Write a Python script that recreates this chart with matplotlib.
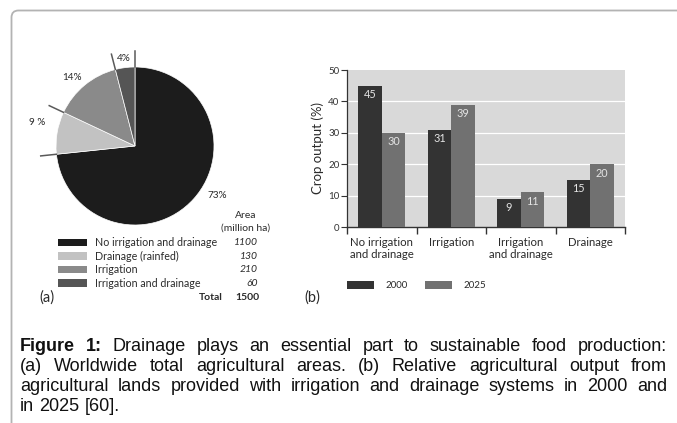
import numpy as np
import matplotlib
matplotlib.use("Agg")
import matplotlib.pyplot as plt
from matplotlib.patches import Rectangle, FancyBboxPatch
import matplotlib.transforms as mtransforms

# ---------------- data ----------------
pie_categories = ["No irrigation and drainage", "Drainage (rainfed)", "Irrigation", "Irrigation and drainage"]
pie_areas = [1100, 130, 210, 60]
pie_labels = ["73%", "9 %", "14%", "4%"]
pie_total = 1500

bar_categories = ["No irrigation\nand drainage", "Irrigation", "Irrigation\nand drainage", "Drainage"]
bar_series = ["2000", "2025"]
values_2000 = [45, 31, 9, 15]
values_2025 = [30, 39, 11, 20]
y_ticks = [0, 10, 20, 30, 40, 50]

caption_lines = [
    "Figure 1: Drainage plays an essential part to sustainable food production:",
    "(a) Worldwide total agricultural areas. (b) Relative agricultural output from",
    "agricultural lands provided with irrigation and drainage systems in 2000 and",
    "in 2025 [60].",
]

# ---------------- style ----------------
W, H = 677, 423
FONT = "Lato"
pie_colors = ["#1c1c1c", "#c2c2c2", "#8a8a8a", "#555555"]
bar_colors = ["#333333", "#717171"]
txt_color = "#2a2a2a"

fig = plt.figure(figsize=(W / 100, H / 100), dpi=100)
fig.patch.set_facecolor("white")

# overlay axes in pixel coordinates (y down)
ov = fig.add_axes([0, 0, 1, 1], zorder=0)
ov.set_xlim(0, W)
ov.set_ylim(H, 0)
ov.axis("off")

# rounded frame
frame = FancyBboxPatch((11.5, -30), 720, H - 10.5 + 30,
                       boxstyle="round,pad=0,rounding_size=7",
                       transform=mtransforms.IdentityTransform(),
                       facecolor="none", edgecolor="#b3b3b3", linewidth=1.3)
fig.patches.append(frame)

# ---------------- pie ----------------
cx, cy, R = 135, 146, 79
lim = 1.4
side = 2 * lim * R
axp = fig.add_axes([(cx - lim * R) / W, (H - cy - lim * R) / H, side / W, side / H], zorder=2)
wedges, _ = axp.pie(pie_areas, colors=pie_colors, startangle=90, counterclock=False,
                    radius=1, wedgeprops=dict(edgecolor="white", linewidth=0.5))
axp.set_xlim(-lim, lim)
axp.set_ylim(-lim, lim)
axp.set_aspect("equal")
axp.axis("off")

label_r = [1.22, 1.27, 1.17, 1.12]
label_dang = [11, -4, 3, 0]
bounds = set()
for w, lab, r, da in zip(wedges, pie_labels, label_r, label_dang):
    mid = np.deg2rad((w.theta1 + w.theta2) / 2 + da)
    axp.text(r * np.cos(mid), r * np.sin(mid), lab, ha="center", va="center",
             fontsize=7.2, color=txt_color, family=FONT)
    bounds.add(round(w.theta1, 3) % 360)
    bounds.add(round(w.theta2, 3) % 360)
for b in bounds:
    t = np.deg2rad(b)
    axp.plot([1.0 * np.cos(t), 1.2 * np.cos(t)], [1.0 * np.sin(t), 1.2 * np.sin(t)],
             color="#5a5a5a", lw=1.1, clip_on=False)

# pie legend table
row0, drow = 242.5, 13.6
ov.text(246, 216, "Area", ha="center", va="center", fontsize=7.5, color=txt_color, family=FONT)
ov.text(246, 228.5, "(million ha)", ha="center", va="center", fontsize=7.5, color=txt_color, family=FONT)
for i, (cat, col, a) in enumerate(zip(pie_categories, pie_colors, pie_areas)):
    y = row0 + i * drow
    ov.add_patch(Rectangle((58, y - 3.8), 29, 7.6, facecolor=col, edgecolor="none"))
    ov.text(95, y, cat, ha="left", va="center", fontsize=7.7, color=txt_color, family=FONT)
    ov.text(258, y, str(a), ha="right", va="center", fontsize=7.5, style="italic",
            color=txt_color, family=FONT)
ov.text(223, 297, "Total", ha="right", va="center", fontsize=7.5, weight="bold",
        color=txt_color, family=FONT)
ov.text(259, 297, str(pie_total), ha="right", va="center", fontsize=7.5, weight="bold",
        color=txt_color, family=FONT)
ov.text(39, 298, "(a)", ha="left", va="center", fontsize=10.5, color=txt_color, family=FONT)
ov.text(304, 298, "(b)", ha="left", va="center", fontsize=10.5, color=txt_color, family=FONT)

# ---------------- bars ----------------
L, Rr, B, T = 347, 625, 227, 70
axb = fig.add_axes([L / W, (H - B) / H, (Rr - L) / W, (B - T) / H], zorder=2)
axb.set_facecolor("#d9d9d9")
x = np.arange(len(bar_categories))
bw = 0.34
for k, (vals, col) in enumerate(zip([values_2000, values_2025], bar_colors)):
    pos = x + (k - 0.5) * bw
    bars = axb.bar(pos, vals, width=bw, color=col, zorder=3)
    for rect, v in zip(bars, vals):
        axb.annotate(str(v), (rect.get_x() + rect.get_width() / 2, v), xytext=(0, -6.5),
                     textcoords="offset points", ha="center", va="center",
                     fontsize=7.8, color="#e4e4e4", family=FONT, zorder=4)
axb.set_xlim(-0.5, len(bar_categories) - 0.5)
axb.set_ylim(0, 50)
axb.set_yticks(y_ticks)
axb.set_yticklabels([str(t) for t in y_ticks], fontsize=7, color=txt_color, family=FONT)
for t in y_ticks[1:-1]:
    axb.axhline(t, color="white", lw=0.9, zorder=1)
axb.set_xticks(np.arange(len(bar_categories) + 1) - 0.5)
axb.set_xticklabels([])
axb.set_xticks(x, minor=True)
axb.set_xticklabels(bar_categories, minor=True, fontsize=8.2, color=txt_color, family=FONT,
                    linespacing=1.05)
axb.tick_params(axis="x", which="minor", length=0, pad=7.5)
axb.tick_params(axis="x", which="major", length=5, width=1, direction="out", colors="#333333")
axb.tick_params(axis="y", length=4, width=0.8, pad=1.5, colors="#333333")
for s in ["top", "right"]:
    axb.spines[s].set_visible(False)
axb.spines["left"].set_color("#333333")
axb.spines["bottom"].set_color("#333333")
axb.spines["left"].set_linewidth(0.9)
axb.spines["bottom"].set_linewidth(1.0)
axb.set_ylabel("Crop output (%)", fontsize=9.5, color=txt_color, family=FONT, labelpad=3)

# bar legend
for k, (name, col) in enumerate(zip(bar_series, bar_colors)):
    x0 = 347 + k * 78
    ov.add_patch(Rectangle((x0, 281.5), 27, 7.5, facecolor=col, edgecolor="none"))
    ov.text(x0 + 38, 285, name, ha="left", va="center", fontsize=7, color=txt_color, family=FONT)

# ---------------- caption (justified) ----------------
CAP_FONT = "Liberation Sans"
cap_size = 13
left, right = 20, 667
baselines = [351, 371, 391, 411]
renderer = fig.canvas.get_renderer()
for li, (line, yb) in enumerate(zip(caption_lines, baselines)):
    words = line.split(" ")
    weights = ["normal"] * len(words)
    if li == 0:
        weights[0] = "bold"
        weights[1] = "bold"
    texts = []
    widths = []
    for w_, wt in zip(words, weights):
        t = ov.text(0, yb, w_, ha="left", va="baseline", fontsize=cap_size,
                    family=CAP_FONT, weight=wt, color="#111111")
        texts.append(t)
        widths.append(t.get_window_extent(renderer).width)
    if li < len(caption_lines) - 1 and len(words) > 1:
        gap = (right - left - sum(widths)) / (len(words) - 1)
    else:
        sp = ov.text(0, yb, "a a", fontsize=cap_size, family=CAP_FONT)
        sp2 = ov.text(0, yb, "aa", fontsize=cap_size, family=CAP_FONT)
        gap = sp.get_window_extent(renderer).width - sp2.get_window_extent(renderer).width
        sp.remove(); sp2.remove()
    xpos = left
    for t, wd in zip(texts, widths):
        t.set_x(xpos)
        xpos += wd + gap

fig.savefig("out.png", dpi=100, facecolor="white")
